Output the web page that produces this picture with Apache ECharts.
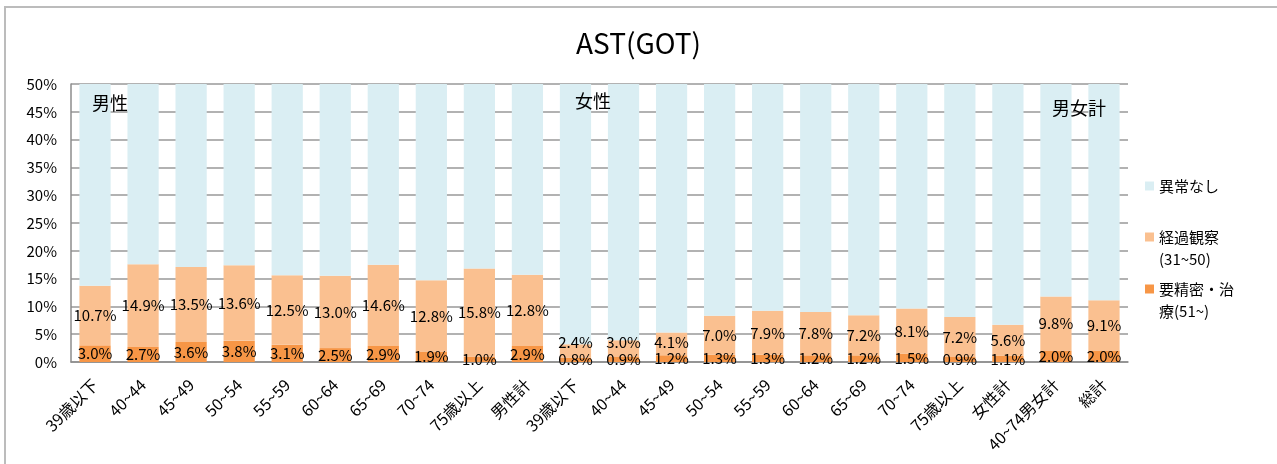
<!DOCTYPE html>
<html>
<head>
<meta charset="utf-8">
<script src="https://cdn.jsdelivr.net/npm/echarts@6/dist/echarts.min.js"></script>
<style>
  html, body { margin: 0; padding: 0; background: #fff; }
  #chart { width: 1277px; height: 464px; }
</style>
</head>
<body>
<div id="chart"></div>
<script>
// categories (男性 10, 女性 10, totals 2)
const categories = [
  '39歳以下', '40~44', '45~49', '50~54', '55~59', '60~64', '65~69', '70~74', '75歳以上', '男性計',
  '39歳以下', '40~44', '45~49', '50~54', '55~59', '60~64', '65~69', '70~74', '75歳以上', '女性計',
  '40~74男女計', '総計'
]
// 要精密・治療(51~)
const seimitsu = [3.0, 2.7, 3.6, 3.8, 3.1, 2.5, 2.9, 1.9, 1.0, 2.9,
  0.8, 0.9, 1.2, 1.3, 1.3, 1.2, 1.2, 1.5, 0.9, 1.1, 2.0, 2.0]
// 経過観察(31~50)
const keika = [10.7, 14.9, 13.5, 13.6, 12.5, 13.0, 14.6, 12.8, 15.8, 12.8,
  2.4, 3.0, 4.1, 7.0, 7.9, 7.8, 7.2, 8.1, 7.2, 5.6, 9.8, 9.1]
// 異常なし = remainder to 100%
const ijounashi = seimitsu.map((v, i) => +(100 - v - keika[i]).toFixed(1))
const yTicks = { min: 0, max: 50, interval: 5 }

const FONT = '"Noto Sans CJK JP", "Noto Sans", sans-serif'
const GRID = { left: 71, right: 149, top: 84, bottom: 102 }
const chart = echarts.init(document.getElementById('chart'))

const pctLabel = {
  show: true,
  position: 'inside',
  color: '#000',
  fontSize: 15,
  fontFamily: FONT,
  formatter: p => p.value.toFixed(1) + '%',
}

// keep 経過観察 labels clear of the 要精密 labels on short bars
function keikaLayout(params) {
  const axisY = chart.getHeight() - GRID.bottom
  const center = params.labelRect.y + params.labelRect.height / 2
  const cap = axisY - 20
  return center > cap ? { dy: cap - center } : {}
}

const legendBase = {
  orient: 'vertical',
  left: 1145,
  padding: 0,
  icon: 'rect',
  itemWidth: 9,
  itemHeight: 9,
  selectedMode: false,
  textStyle: { fontSize: 15, lineHeight: 22, color: '#000', fontFamily: FONT },
}

chart.setOption({
  animation: false,
  textStyle: { fontFamily: FONT },
  title: {
    text: 'AST(GOT)',
    left: 'center',
    top: 24,
    textStyle: { fontSize: 28, fontWeight: 'normal', color: '#000', fontFamily: FONT },
  },
  legend: [
    { ...legendBase, top: 175, data: ['異常なし'] },
    { ...legendBase, top: 204, data: ['経過観察'], formatter: () => ' \n経過観察\n(31~50)' },
    { ...legendBase, top: 256, data: ['要精密・治療'], formatter: () => ' \n要精密・治\n療(51~)' },
  ],
  grid: GRID,
  xAxis: {
    type: 'category',
    data: categories,
    axisLine: { lineStyle: { color: '#8c8c8c', width: 1.5 } },
    axisTick: { show: false },
    axisLabel: { rotate: 45, interval: 0, margin: 20, fontSize: 16, color: '#000', fontFamily: FONT },
  },
  yAxis: {
    type: 'value',
    ...yTicks,
    axisLine: { show: true, lineStyle: { color: '#8c8c8c', width: 1.5 } },
    axisTick: { show: false },
    splitLine: { lineStyle: { color: '#999', width: 1.5 } },
    axisLabel: { formatter: '{value}%', fontSize: 15, color: '#000', margin: 14, fontFamily: FONT },
  },
  series: [
    {
      name: '要精密・治療',
      type: 'bar',
      stack: 'total',
      barWidth: '65%',
      data: seimitsu,
      itemStyle: { color: '#f79646' },
      label: pctLabel,
    },
    {
      name: '経過観察',
      type: 'bar',
      stack: 'total',
      data: keika,
      itemStyle: { color: '#fac090' },
      label: pctLabel,
      labelLayout: keikaLayout,
    },
    {
      name: '異常なし',
      type: 'bar',
      stack: 'total',
      data: ijounashi,
      itemStyle: { color: '#daeef3' },
      clip: true,
    },
  ],
  graphic: [
    {
      type: 'rect',
      shape: { x: 5, y: 7, width: 1300, height: 500 },
      style: { fill: 'none', stroke: '#bcbcbc', lineWidth: 2 },
      silent: true,
    },
    { type: 'text', z: 100, left: 92, top: 94, style: { text: '男性', fontSize: 18, fill: '#000', fontFamily: FONT } },
    { type: 'text', z: 100, left: 575, top: 92, style: { text: '女性', fontSize: 18, fill: '#000', fontFamily: FONT } },
    { type: 'text', z: 100, left: 1052, top: 99, style: { text: '男女計', fontSize: 18, fill: '#000', fontFamily: FONT } },
  ],
})
</script>
</body>
</html>
